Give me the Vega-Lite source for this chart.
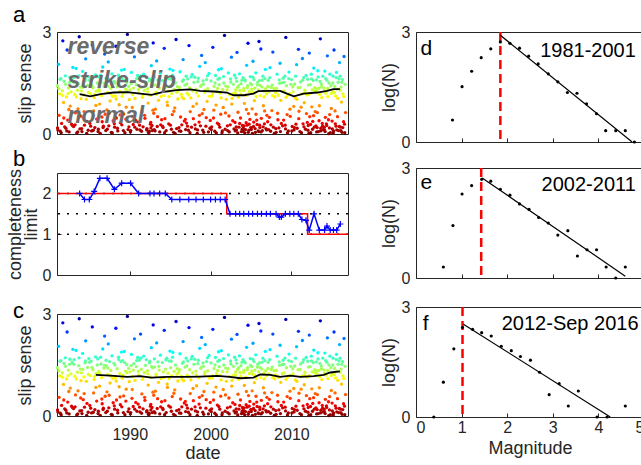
{
"$schema": "https://vega.github.io/schema/vega-lite/v6.json",
"background": "white",
"padding": {"left": 5, "top": 3, "right": -3, "bottom": 0},
"config": {
  "font": "Liberation Sans",
  "view": {"stroke": "#262626", "strokeWidth": 1},
  "axis": {"domain": false, "grid": false, "ticks": true, "tickSize": -4, "tickColor": "#262626", "tickWidth": 1,
           "labelColor": "#262626", "labelFontSize": 16, "labelPadding": 10, "titleFontSize": 18, "titleFontWeight": "normal", "titleColor": "#262626", "titlePadding": 6},
  "title": {"fontSize": 22, "fontWeight": "normal", "color": "#000000", "anchor": "start", "frame": "group"}
},
"datasets": {
  "events": [
{"date":1981.04,"slip":1.42},{"date":1981.11,"slip":0.12},{"date":1981.19,"slip":2.05},{"date":1981.26,"slip":0.55},{"date":1981.34,"slip":1.18},{"date":1981.41,"slip":0.08},{"date":1981.49,"slip":1.63},{"date":1981.57,"slip":0.31},{"date":1981.66,"slip":1.27},{"date":1981.72,"slip":2.74},{"date":1981.81,"slip":0.93},{"date":1981.88,"slip":1.55},{"date":1981.95,"slip":0.21},
{"date":1982.03,"slip":1.71},{"date":1982.1,"slip":0.17},{"date":1982.18,"slip":1.09},{"date":1982.25,"slip":2.47},{"date":1982.33,"slip":0.41},{"date":1982.42,"slip":1.35},{"date":1982.5,"slip":0.06},{"date":1982.56,"slip":1.52},{"date":1982.64,"slip":0.82},{"date":1982.73,"slip":1.24},{"date":1982.8,"slip":0.29},{"date":1982.87,"slip":1.58},{"date":1982.96,"slip":1.96},
{"date":1983.05,"slip":0.22},{"date":1983.13,"slip":1.66},{"date":1983.2,"slip":1.17},{"date":1983.29,"slip":0.62},{"date":1983.36,"slip":1.93},{"date":1983.44,"slip":0.03},{"date":1983.52,"slip":1.29},{"date":1983.6,"slip":0.74},{"date":1983.68,"slip":1.48},{"date":1983.75,"slip":2.86},{"date":1983.83,"slip":0.15},{"date":1983.9,"slip":1.38},{"date":1983.97,"slip":1.04},
{"date":1984.02,"slip":1.27},{"date":1984.09,"slip":0.07},{"date":1984.17,"slip":1.84},{"date":1984.24,"slip":0.48},{"date":1984.32,"slip":1.15},{"date":1984.4,"slip":0.26},{"date":1984.47,"slip":1.56},{"date":1984.55,"slip":2.21},{"date":1984.63,"slip":1.02},{"date":1984.71,"slip":0.37},{"date":1984.78,"slip":1.43},{"date":1984.86,"slip":0.11},{"date":1984.93,"slip":1.69},
{"date":1985.06,"slip":0.31},{"date":1985.14,"slip":1.19},{"date":1985.21,"slip":1.61},{"date":1985.28,"slip":0.09},{"date":1985.37,"slip":2.62},{"date":1985.45,"slip":1.36},{"date":1985.53,"slip":0.68},{"date":1985.6,"slip":1.07},{"date":1985.69,"slip":0.19},{"date":1985.77,"slip":1.74},{"date":1985.84,"slip":1.26},{"date":1985.91,"slip":0.44},{"date":1985.98,"slip":1.5},
{"date":1986.04,"slip":1.68},{"date":1986.12,"slip":0.14},{"date":1986.19,"slip":1.31},{"date":1986.27,"slip":0.88},{"date":1986.35,"slip":0.02},{"date":1986.43,"slip":1.53},{"date":1986.51,"slip":1.13},{"date":1986.59,"slip":0.36},{"date":1986.66,"slip":1.97},{"date":1986.74,"slip":0.23},{"date":1986.82,"slip":1.41},{"date":1986.89,"slip":2.35},{"date":1986.96,"slip":0.58},
{"date":1987.03,"slip":0.1},{"date":1987.1,"slip":1.47},{"date":1987.18,"slip":0.71},{"date":1987.26,"slip":1.22},{"date":1987.34,"slip":2.12},{"date":1987.41,"slip":0.24},{"date":1987.49,"slip":1.6},{"date":1987.57,"slip":0.97},{"date":1987.65,"slip":1.34},{"date":1987.72,"slip":0.05},{"date":1987.8,"slip":1.77},{"date":1987.88,"slip":1.11},{"date":1987.95,"slip":0.39},
{"date":1988.05,"slip":1.55},{"date":1988.13,"slip":0.2},{"date":1988.21,"slip":1.12},{"date":1988.28,"slip":2.58},{"date":1988.36,"slip":0.47},{"date":1988.44,"slip":1.39},{"date":1988.52,"slip":0.09},{"date":1988.61,"slip":1.73},{"date":1988.69,"slip":0.86},{"date":1988.76,"slip":1.25},{"date":1988.84,"slip":0.33},{"date":1988.92,"slip":1.6},{"date":1988.98,"slip":1.88},
{"date":1989.02,"slip":0.27},{"date":1989.1,"slip":1.63},{"date":1989.17,"slip":1.2},{"date":1989.25,"slip":0.59},{"date":1989.33,"slip":1.9},{"date":1989.4,"slip":0.04},{"date":1989.48,"slip":1.32},{"date":1989.56,"slip":0.79},{"date":1989.63,"slip":1.51},{"date":1989.71,"slip":2.93},{"date":1989.79,"slip":0.13},{"date":1989.86,"slip":1.4},{"date":1989.94,"slip":1.01},
{"date":1990.04,"slip":1.3},{"date":1990.12,"slip":0.1},{"date":1990.2,"slip":1.81},{"date":1990.27,"slip":0.52},{"date":1990.35,"slip":1.16},{"date":1990.43,"slip":0.28},{"date":1990.5,"slip":1.54},{"date":1990.58,"slip":2.27},{"date":1990.66,"slip":1.05},{"date":1990.74,"slip":0.4},{"date":1990.81,"slip":1.45},{"date":1990.89,"slip":0.14},{"date":1990.97,"slip":1.72},
{"date":1991.03,"slip":0.35},{"date":1991.11,"slip":1.21},{"date":1991.18,"slip":1.64},{"date":1991.26,"slip":0.12},{"date":1991.34,"slip":2.41},{"date":1991.42,"slip":1.37},{"date":1991.5,"slip":0.65},{"date":1991.57,"slip":1.08},{"date":1991.65,"slip":0.21},{"date":1991.72,"slip":1.76},{"date":1991.8,"slip":1.28},{"date":1991.88,"slip":0.46},{"date":1991.95,"slip":1.49},
{"date":1992.05,"slip":1.66},{"date":1992.13,"slip":0.16},{"date":1992.2,"slip":1.33},{"date":1992.28,"slip":0.91},{"date":1992.36,"slip":0.03},{"date":1992.4,"slip":0.08},{"date":1992.44,"slip":1.56},{"date":1992.52,"slip":1.14},{"date":1992.6,"slip":0.34},{"date":1992.62,"slip":0.18},{"date":1992.67,"slip":2.01},{"date":1992.75,"slip":0.25},{"date":1992.83,"slip":1.42},{"date":1992.9,"slip":2.68},{"date":1992.97,"slip":0.61},
{"date":1993.02,"slip":0.13},{"date":1993.09,"slip":1.44},{"date":1993.17,"slip":0.73},{"date":1993.25,"slip":1.23},{"date":1993.33,"slip":2.15},{"date":1993.4,"slip":0.22},{"date":1993.48,"slip":1.59},{"date":1993.56,"slip":0.99},{"date":1993.64,"slip":1.35},{"date":1993.71,"slip":0.06},{"date":1993.79,"slip":1.79},{"date":1993.87,"slip":1.1},{"date":1993.94,"slip":0.42},
{"date":1994.04,"slip":1.57},{"date":1994.12,"slip":0.19},{"date":1994.2,"slip":1.13},{"date":1994.27,"slip":2.52},{"date":1994.35,"slip":0.45},{"date":1994.43,"slip":1.38},{"date":1994.51,"slip":0.1},{"date":1994.59,"slip":1.7},{"date":1994.67,"slip":0.84},{"date":1994.74,"slip":1.26},{"date":1994.82,"slip":0.3},{"date":1994.9,"slip":1.62},{"date":1994.97,"slip":1.91},
{"date":1995.03,"slip":0.26},{"date":1995.11,"slip":1.61},{"date":1995.19,"slip":1.19},{"date":1995.26,"slip":0.57},{"date":1995.34,"slip":1.87},{"date":1995.42,"slip":0.05},{"date":1995.49,"slip":1.31},{"date":1995.57,"slip":0.77},{"date":1995.65,"slip":1.5},{"date":1995.73,"slip":2.78},{"date":1995.8,"slip":0.16},{"date":1995.88,"slip":1.39},{"date":1995.96,"slip":1.03},
{"date":1996.05,"slip":1.29},{"date":1996.13,"slip":0.09},{"date":1996.21,"slip":1.83},{"date":1996.29,"slip":0.5},{"date":1996.36,"slip":1.17},{"date":1996.44,"slip":0.27},{"date":1996.52,"slip":1.55},{"date":1996.6,"slip":2.19},{"date":1996.68,"slip":1.04},{"date":1996.75,"slip":0.38},{"date":1996.83,"slip":1.44},{"date":1996.91,"slip":0.13},{"date":1996.98,"slip":1.7},
{"date":1997.02,"slip":0.32},{"date":1997.1,"slip":1.2},{"date":1997.18,"slip":1.62},{"date":1997.25,"slip":0.11},{"date":1997.33,"slip":2.6},{"date":1997.41,"slip":1.36},{"date":1997.49,"slip":0.66},{"date":1997.56,"slip":1.06},{"date":1997.64,"slip":0.2},{"date":1997.72,"slip":1.75},{"date":1997.79,"slip":1.27},{"date":1997.87,"slip":0.45},{"date":1997.95,"slip":1.52},
{"date":1998.04,"slip":1.67},{"date":1998.12,"slip":0.15},{"date":1998.19,"slip":1.32},{"date":1998.27,"slip":0.89},{"date":1998.35,"slip":0.02},{"date":1998.43,"slip":1.54},{"date":1998.51,"slip":1.12},{"date":1998.58,"slip":0.35},{"date":1998.66,"slip":1.99},{"date":1998.74,"slip":0.24},{"date":1998.82,"slip":1.43},{"date":1998.89,"slip":2.31},{"date":1998.97,"slip":0.6},
{"date":1999.03,"slip":0.11},{"date":1999.11,"slip":1.46},{"date":1999.18,"slip":0.72},{"date":1999.26,"slip":1.22},{"date":1999.34,"slip":2.1},{"date":1999.42,"slip":0.23},{"date":1999.5,"slip":1.6},{"date":1999.57,"slip":0.96},{"date":1999.65,"slip":1.33},{"date":1999.73,"slip":0.06},{"date":1999.81,"slip":1.78},{"date":1999.88,"slip":1.11},{"date":1999.96,"slip":0.4},
{"date":2000.05,"slip":1.56},{"date":2000.13,"slip":0.21},{"date":2000.2,"slip":1.12},{"date":2000.28,"slip":2.55},{"date":2000.36,"slip":0.47},{"date":2000.44,"slip":1.4},{"date":2000.52,"slip":0.08},{"date":2000.6,"slip":1.72},{"date":2000.67,"slip":0.85},{"date":2000.75,"slip":1.25},{"date":2000.83,"slip":0.32},{"date":2000.91,"slip":1.61},{"date":2000.98,"slip":1.89},
{"date":2001.02,"slip":0.28},{"date":2001.1,"slip":1.64},{"date":2001.18,"slip":1.2},{"date":2001.26,"slip":0.58},{"date":2001.33,"slip":1.92},{"date":2001.41,"slip":0.04},{"date":2001.49,"slip":1.31},{"date":2001.57,"slip":0.78},{"date":2001.64,"slip":1.5},{"date":2001.72,"slip":2.9},{"date":2001.8,"slip":0.14},{"date":2001.87,"slip":1.41},{"date":2001.95,"slip":1.02},
{"date":2002.04,"slip":1.3},{"date":2002.12,"slip":0.1},{"date":2002.2,"slip":1.8},{"date":2002.27,"slip":0.53},{"date":2002.35,"slip":1.16},{"date":2002.43,"slip":0.27},{"date":2002.51,"slip":1.53},{"date":2002.58,"slip":2.26},{"date":2002.66,"slip":1.05},{"date":2002.74,"slip":0.39},{"date":2002.82,"slip":1.46},{"date":2002.9,"slip":0.15},{"date":2002.97,"slip":1.73},
{"date":2003.02,"slip":0.34},{"date":2003.08,"slip":1.21},{"date":2003.14,"slip":1.65},{"date":2003.2,"slip":0.12},{"date":2003.27,"slip":2.4},{"date":2003.33,"slip":1.37},{"date":2003.39,"slip":0.64},{"date":2003.45,"slip":1.08},{"date":2003.51,"slip":0.2},{"date":2003.57,"slip":1.77},{"date":2003.64,"slip":1.28},{"date":2003.7,"slip":0.47},{"date":2003.76,"slip":1.48},{"date":2003.82,"slip":0.07},{"date":2003.88,"slip":1.58},{"date":2003.94,"slip":0.25},
{"date":2004.01,"slip":1.66},{"date":2004.06,"slip":0.17},{"date":2004.12,"slip":1.34},{"date":2004.18,"slip":0.9},{"date":2004.23,"slip":0.03},{"date":2004.29,"slip":1.56},{"date":2004.35,"slip":1.14},{"date":2004.4,"slip":0.33},{"date":2004.46,"slip":2.02},{"date":2004.52,"slip":0.26},{"date":2004.57,"slip":1.42},{"date":2004.63,"slip":2.67},{"date":2004.69,"slip":0.6},{"date":2004.74,"slip":0.11},{"date":2004.8,"slip":1.25},{"date":2004.86,"slip":0.43},{"date":2004.91,"slip":1.69},{"date":2004.97,"slip":0.19},
{"date":2005.03,"slip":0.13},{"date":2005.08,"slip":1.45},{"date":2005.14,"slip":0.74},{"date":2005.2,"slip":1.23},{"date":2005.25,"slip":2.14},{"date":2005.31,"slip":0.22},{"date":2005.37,"slip":1.6},{"date":2005.42,"slip":0.98},{"date":2005.48,"slip":1.35},{"date":2005.54,"slip":0.05},{"date":2005.59,"slip":1.8},{"date":2005.65,"slip":1.1},{"date":2005.71,"slip":0.41},{"date":2005.76,"slip":0.28},{"date":2005.82,"slip":1.52},{"date":2005.88,"slip":0.09},{"date":2005.93,"slip":1.3},{"date":2005.99,"slip":2.72},
{"date":2006.04,"slip":1.57},{"date":2006.1,"slip":0.19},{"date":2006.16,"slip":1.13},{"date":2006.22,"slip":2.5},{"date":2006.28,"slip":0.46},{"date":2006.35,"slip":1.38},{"date":2006.41,"slip":0.1},{"date":2006.47,"slip":1.7},{"date":2006.53,"slip":0.83},{"date":2006.59,"slip":1.26},{"date":2006.66,"slip":0.3},{"date":2006.72,"slip":1.63},{"date":2006.78,"slip":1.9},{"date":2006.84,"slip":0.16},{"date":2006.9,"slip":1.18},{"date":2006.96,"slip":0.55},
{"date":2007.06,"slip":0.36},{"date":2007.13,"slip":1.58},{"date":2007.21,"slip":1.24},{"date":2007.27,"slip":0.49},{"date":2007.36,"slip":1.95},{"date":2007.43,"slip":0.08},{"date":2007.5,"slip":1.37},{"date":2007.58,"slip":0.69},{"date":2007.62,"slip":1.44},{"date":2007.7,"slip":2.41},{"date":2007.77,"slip":0.2},{"date":2007.85,"slip":1.33},{"date":2007.93,"slip":1.09},
{"date":2008.03,"slip":1.21},{"date":2008.11,"slip":0.05},{"date":2008.22,"slip":1.76},{"date":2008.29,"slip":0.61},{"date":2008.37,"slip":1.14},{"date":2008.45,"slip":0.18},{"date":2008.53,"slip":1.49},{"date":2008.6,"slip":2.08},{"date":2008.68,"slip":0.99},{"date":2008.75,"slip":0.31},{"date":2008.84,"slip":1.51},{"date":2008.91,"slip":0.24},{"date":2008.98,"slip":1.64},
{"date":2009.04,"slip":0.41},{"date":2009.12,"slip":1.27},{"date":2009.19,"slip":1.7},{"date":2009.27,"slip":0.15},{"date":2009.31,"slip":2.84},{"date":2009.39,"slip":1.42},{"date":2009.47,"slip":0.57},{"date":2009.55,"slip":1.15},{"date":2009.62,"slip":0.09},{"date":2009.7,"slip":1.82},{"date":2009.78,"slip":1.19},{"date":2009.85,"slip":0.52},{"date":2009.93,"slip":1.46},
{"date":2010.02,"slip":1.6},{"date":2010.1,"slip":0.22},{"date":2010.17,"slip":1.39},{"date":2010.29,"slip":0.81},{"date":2010.33,"slip":0.12},{"date":2010.4,"slip":1.47},{"date":2010.48,"slip":1.06},{"date":2010.56,"slip":0.29},{"date":2010.64,"slip":2.04},{"date":2010.71,"slip":0.17},{"date":2010.83,"slip":1.36},{"date":2010.87,"slip":2.49},{"date":2010.94,"slip":0.67},
{"date":2011.05,"slip":0.07},{"date":2011.13,"slip":1.53},{"date":2011.2,"slip":0.79},{"date":2011.28,"slip":1.18},{"date":2011.36,"slip":2.22},{"date":2011.44,"slip":0.3},{"date":2011.51,"slip":1.66},{"date":2011.59,"slip":0.92},{"date":2011.67,"slip":1.29},{"date":2011.74,"slip":0.14},{"date":2011.82,"slip":1.72},{"date":2011.9,"slip":1.15},{"date":2011.97,"slip":0.34},
{"date":2012.02,"slip":1.61},{"date":2012.08,"slip":0.25},{"date":2012.14,"slip":1.17},{"date":2012.21,"slip":2.38},{"date":2012.27,"slip":0.51},{"date":2012.33,"slip":1.45},{"date":2012.39,"slip":0.04},{"date":2012.46,"slip":1.76},{"date":2012.52,"slip":0.8},{"date":2012.58,"slip":1.3},{"date":2012.64,"slip":0.37},{"date":2012.71,"slip":1.57},{"date":2012.77,"slip":1.94},{"date":2012.83,"slip":0.2},{"date":2012.89,"slip":1.36},{"date":2012.95,"slip":0.66},
{"date":2013.03,"slip":0.24},{"date":2013.09,"slip":1.59},{"date":2013.15,"slip":1.25},{"date":2013.21,"slip":0.63},{"date":2013.27,"slip":1.86},{"date":2013.33,"slip":0.07},{"date":2013.39,"slip":1.34},{"date":2013.45,"slip":0.83},{"date":2013.52,"slip":1.55},{"date":2013.58,"slip":2.8},{"date":2013.64,"slip":0.17},{"date":2013.7,"slip":1.47},{"date":2013.76,"slip":1.07},{"date":2013.82,"slip":0.31},{"date":2013.88,"slip":1.7},{"date":2013.94,"slip":0.12},
{"date":2014.02,"slip":1.35},{"date":2014.08,"slip":0.13},{"date":2014.14,"slip":1.85},{"date":2014.2,"slip":0.49},{"date":2014.27,"slip":1.2},{"date":2014.33,"slip":0.3},{"date":2014.39,"slip":1.58},{"date":2014.45,"slip":2.3},{"date":2014.51,"slip":1.1},{"date":2014.58,"slip":0.42},{"date":2014.64,"slip":1.5},{"date":2014.7,"slip":0.18},{"date":2014.76,"slip":1.76},{"date":2014.82,"slip":0.04},{"date":2014.88,"slip":1.42},{"date":2014.94,"slip":0.75},
{"date":2015.03,"slip":0.38},{"date":2015.09,"slip":1.25},{"date":2015.15,"slip":1.7},{"date":2015.21,"slip":0.09},{"date":2015.27,"slip":2.47},{"date":2015.34,"slip":1.4},{"date":2015.4,"slip":0.68},{"date":2015.46,"slip":1.12},{"date":2015.52,"slip":0.23},{"date":2015.58,"slip":1.81},{"date":2015.64,"slip":1.32},{"date":2015.7,"slip":0.51},{"date":2015.77,"slip":1.52},{"date":2015.83,"slip":0.1},{"date":2015.89,"slip":1.62},{"date":2015.95,"slip":2.1},
{"date":2016.02,"slip":1.7},{"date":2016.08,"slip":0.2},{"date":2016.14,"slip":1.38},{"date":2016.2,"slip":0.94},{"date":2016.26,"slip":0.05},{"date":2016.32,"slip":1.6},{"date":2016.38,"slip":1.18},{"date":2016.45,"slip":0.36},{"date":2016.51,"slip":2.28},{"date":2016.57,"slip":0.29},{"date":2016.63,"slip":1.46},{"date":2016.69,"slip":0.63},
{"date":1981.07,"slip":0.18},{"date":1981.23,"slip":1.33},{"date":1981.38,"slip":1.61},{"date":1981.52,"slip":0.04},{"date":1981.69,"slip":1.14},{"date":1981.84,"slip":0.47},
{"date":1982.06,"slip":1.46},{"date":1982.21,"slip":0.09},{"date":1982.37,"slip":1.19},{"date":1982.46,"slip":0.72},{"date":1982.6,"slip":1.67},{"date":1982.91,"slip":0.25},
{"date":1983.09,"slip":1.52},{"date":1983.24,"slip":0.27},{"date":1983.4,"slip":1.09},{"date":1983.57,"slip":0.06},{"date":1983.72,"slip":1.71},{"date":1983.93,"slip":0.53},
{"date":1984.05,"slip":0.16},{"date":1984.2,"slip":1.37},{"date":1984.36,"slip":0.66},{"date":1984.51,"slip":1.62},{"date":1984.67,"slip":0.02},{"date":1984.89,"slip":1.22},
{"date":1985.02,"slip":1.58},{"date":1985.17,"slip":0.23},{"date":1985.33,"slip":1.43},{"date":1985.49,"slip":0.11},{"date":1985.64,"slip":1.16},{"date":1985.81,"slip":0.84},
{"date":1986.08,"slip":0.07},{"date":1986.23,"slip":1.26},{"date":1986.39,"slip":1.73},{"date":1986.55,"slip":0.5},{"date":1986.7,"slip":0.19},{"date":1986.85,"slip":1.49},
{"date":1987.07,"slip":1.64},{"date":1987.22,"slip":0.14},{"date":1987.3,"slip":1.41},{"date":1987.45,"slip":0.61},{"date":1987.61,"slip":1.18},{"date":1987.84,"slip":0.03},
{"date":1988.09,"slip":0.3},{"date":1988.17,"slip":1.5},{"date":1988.32,"slip":1.03},{"date":1988.48,"slip":0.17},{"date":1988.64,"slip":1.66},{"date":1988.8,"slip":0.56},
{"date":1989.06,"slip":1.11},{"date":1989.21,"slip":0.1},{"date":1989.37,"slip":1.57},{"date":1989.52,"slip":0.44},{"date":1989.67,"slip":1.27},{"date":1989.9,"slip":0.21},
{"date":1990.08,"slip":0.06},{"date":1990.16,"slip":1.48},{"date":1990.31,"slip":0.78},{"date":1990.46,"slip":1.35},{"date":1990.62,"slip":0.2},{"date":1990.85,"slip":1.63},
{"date":1991.07,"slip":1.31},{"date":1991.22,"slip":0.26},{"date":1991.38,"slip":1.7},{"date":1991.46,"slip":0.08},{"date":1991.61,"slip":1.13},{"date":1991.84,"slip":0.55},
{"date":1992.09,"slip":0.12},{"date":1992.24,"slip":1.24},{"date":1992.32,"slip":0.05},{"date":1992.48,"slip":1.61},{"date":1992.56,"slip":0.29},{"date":1992.71,"slip":1.45},{"date":1992.79,"slip":0.1},{"date":1992.87,"slip":0.7},
{"date":1993.05,"slip":1.68},{"date":1993.13,"slip":0.09},{"date":1993.29,"slip":1.17},{"date":1993.44,"slip":0.51},{"date":1993.6,"slip":1.46},{"date":1993.83,"slip":0.27},
{"date":1994.08,"slip":0.22},{"date":1994.16,"slip":1.3},{"date":1994.31,"slip":0.04},{"date":1994.47,"slip":1.65},{"date":1994.63,"slip":0.94},{"date":1994.86,"slip":1.1},
{"date":1995.07,"slip":1.42},{"date":1995.15,"slip":0.14},{"date":1995.3,"slip":1.73},{"date":1995.46,"slip":0.67},{"date":1995.61,"slip":0.02},{"date":1995.84,"slip":1.23},
{"date":1996.09,"slip":0.19},{"date":1996.17,"slip":1.36},{"date":1996.32,"slip":0.08},{"date":1996.48,"slip":1.08},{"date":1996.64,"slip":1.59},{"date":1996.87,"slip":0.43},
{"date":1997.06,"slip":1.47},{"date":1997.14,"slip":0.23},{"date":1997.29,"slip":1.15},{"date":1997.45,"slip":0.04},{"date":1997.6,"slip":1.68},{"date":1997.83,"slip":0.81},
{"date":1998.08,"slip":0.27},{"date":1998.23,"slip":1.21},{"date":1998.39,"slip":0.12},{"date":1998.47,"slip":1.64},{"date":1998.62,"slip":0.55},{"date":1998.78,"slip":1.4},
{"date":1999.07,"slip":1.56},{"date":1999.15,"slip":0.05},{"date":1999.3,"slip":1.29},{"date":1999.46,"slip":0.48},{"date":1999.61,"slip":1.71},{"date":1999.92,"slip":0.17},
{"date":2000.09,"slip":0.13},{"date":2000.24,"slip":1.18},{"date":2000.4,"slip":0.7},{"date":2000.56,"slip":1.5},{"date":2000.71,"slip":0.03},{"date":2000.87,"slip":1.34},
{"date":2001.06,"slip":1.45},{"date":2001.14,"slip":0.2},{"date":2001.3,"slip":1.06},{"date":2001.45,"slip":0.09},{"date":2001.61,"slip":1.69},{"date":2001.84,"slip":0.62},
{"date":2002.08,"slip":0.24},{"date":2002.16,"slip":1.39},{"date":2002.31,"slip":0.06},{"date":2002.47,"slip":1.62},{"date":2002.62,"slip":0.88},{"date":2002.86,"slip":1.2},
{"date":2003.05,"slip":0.09},{"date":2003.11,"slip":1.3},{"date":2003.17,"slip":0.21},{"date":2003.24,"slip":1.55},{"date":2003.36,"slip":0.03},{"date":2003.48,"slip":1.42},{"date":2003.6,"slip":0.31},{"date":2003.73,"slip":1.17},{"date":2003.91,"slip":0.14},
{"date":2004.03,"slip":0.08},{"date":2004.09,"slip":1.28},{"date":2004.15,"slip":0.24},{"date":2004.21,"slip":1.6},{"date":2004.32,"slip":0.13},{"date":2004.43,"slip":0.72},{"date":2004.55,"slip":1.36},{"date":2004.66,"slip":0.05},{"date":2004.77,"slip":0.29},{"date":2004.94,"slip":1.49},
{"date":2005.06,"slip":0.19},{"date":2005.11,"slip":1.32},{"date":2005.17,"slip":0.02},{"date":2005.23,"slip":1.67},{"date":2005.34,"slip":0.35},{"date":2005.45,"slip":1.2},{"date":2005.51,"slip":0.16},{"date":2005.62,"slip":0.58},{"date":2005.79,"slip":1.44},{"date":2005.96,"slip":0.07},
{"date":2006.07,"slip":0.26},{"date":2006.13,"slip":1.43},{"date":2006.25,"slip":0.06},{"date":2006.38,"slip":1.58},{"date":2006.5,"slip":0.21},{"date":2006.62,"slip":1.09},{"date":2006.69,"slip":0.68},{"date":2006.81,"slip":1.33},{"date":2006.93,"slip":0.12},
{"date":2007.09,"slip":1.4},{"date":2007.17,"slip":0.13},{"date":2007.32,"slip":1.66},{"date":2007.46,"slip":0.27},{"date":2007.66,"slip":1.13},{"date":2007.89,"slip":0.02},
{"date":2008.07,"slip":0.16},{"date":2008.15,"slip":1.34},{"date":2008.33,"slip":0.42},{"date":2008.49,"slip":1.59},{"date":2008.64,"slip":0.07},{"date":2008.88,"slip":1.25},
{"date":2009.08,"slip":1.52},{"date":2009.23,"slip":0.26},{"date":2009.35,"slip":1.08},{"date":2009.51,"slip":0.03},{"date":2009.67,"slip":1.63},{"date":2009.82,"slip":0.73},
{"date":2010.06,"slip":0.09},{"date":2010.21,"slip":1.24},{"date":2010.37,"slip":0.19},{"date":2010.52,"slip":1.7},{"date":2010.68,"slip":1.02},{"date":2010.91,"slip":0.45},
{"date":2011.09,"slip":1.37},{"date":2011.24,"slip":0.04},{"date":2011.4,"slip":1.58},{"date":2011.55,"slip":0.21},{"date":2011.63,"slip":1.21},{"date":2011.86,"slip":0.6},
{"date":2012.05,"slip":0.11},{"date":2012.11,"slip":1.44},{"date":2012.17,"slip":0.02},{"date":2012.24,"slip":1.19},{"date":2012.36,"slip":0.28},{"date":2012.49,"slip":1.62},{"date":2012.61,"slip":0.14},{"date":2012.74,"slip":0.54},{"date":2012.92,"slip":1.27},
{"date":2013.06,"slip":1.33},{"date":2013.12,"slip":0.06},{"date":2013.18,"slip":0.19},{"date":2013.3,"slip":1.68},{"date":2013.42,"slip":0.39},{"date":2013.49,"slip":1.16},{"date":2013.61,"slip":0.09},{"date":2013.73,"slip":1.39},{"date":2013.85,"slip":0.23},
{"date":2014.05,"slip":0.2},{"date":2014.11,"slip":1.26},{"date":2014.17,"slip":0.07},{"date":2014.24,"slip":1.63},{"date":2014.36,"slip":0.25},{"date":2014.48,"slip":1.34},{"date":2014.61,"slip":0.01},{"date":2014.73,"slip":0.57},{"date":2014.91,"slip":1.19},
{"date":2015.06,"slip":0.15},{"date":2015.12,"slip":1.5},{"date":2015.18,"slip":0.03},{"date":2015.31,"slip":1.22},{"date":2015.43,"slip":0.3},{"date":2015.55,"slip":1.66},{"date":2015.61,"slip":0.12},{"date":2015.74,"slip":1.05},{"date":2015.92,"slip":0.22},
{"date":2016.05,"slip":1.29},{"date":2016.11,"slip":0.1},{"date":2016.23,"slip":1.52},{"date":2016.35,"slip":0.19},{"date":2016.48,"slip":1.1},{"date":2016.6,"slip":0.04}
  ],
  "medA": [
{"date":1983.8,"slip":1.17},{"date":1985.1,"slip":1.11},{"date":1986.4,"slip":1.17},{"date":1988.0,"slip":1.22},{"date":1989.7,"slip":1.23},{"date":1991.3,"slip":1.19},{"date":1992.7,"slip":1.15},{"date":1994.2,"slip":1.24},{"date":1995.8,"slip":1.29},{"date":1997.5,"slip":1.31},{"date":1998.7,"slip":1.27},{"date":2000.4,"slip":1.25},{"date":2002.0,"slip":1.22},{"date":2002.85,"slip":1.14},{"date":2004.1,"slip":1.14},{"date":2005.3,"slip":1.19},{"date":2005.9,"slip":1.26},{"date":2007.4,"slip":1.27},{"date":2008.6,"slip":1.27},{"date":2009.45,"slip":1.19},{"date":2010.3,"slip":1.11},{"date":2011.5,"slip":1.19},{"date":2013.2,"slip":1.22},{"date":2014.4,"slip":1.27},{"date":2015.2,"slip":1.32},{"date":2016.0,"slip":1.32}
  ],
  "medC": [
{"date":1985.8,"slip":1.21},{"date":1987.6,"slip":1.19},{"date":1989.7,"slip":1.15},{"date":1991.3,"slip":1.17},{"date":1992.7,"slip":1.13},{"date":1994.6,"slip":1.15},{"date":1996.7,"slip":1.15},{"date":1998.7,"slip":1.16},{"date":2000.8,"slip":1.18},{"date":2002.4,"slip":1.15},{"date":2003.7,"slip":1.11},{"date":2005.3,"slip":1.13},{"date":2006.15,"slip":1.22},{"date":2007.4,"slip":1.21},{"date":2008.6,"slip":1.15},{"date":2009.9,"slip":1.19},{"date":2011.1,"slip":1.15},{"date":2012.75,"slip":1.17},{"date":2014.0,"slip":1.21},{"date":2014.8,"slip":1.28},{"date":2016.0,"slip":1.31}
  ],
  "labelsA": [
{"date":1982.3,"slip":2.55,"label":"reverse"},{"date":1982.3,"slip":1.56,"label":"strike-slip"},{"date":1982.3,"slip":0.53,"label":"normal"}
  ],
  "limitGrid": [{"limit":1},{"limit":1.5},{"limit":2}],
  "limitStep": [{"date":1981,"limit":2},{"date":2002,"limit":1.5},{"date":2012,"limit":1},{"date":2017,"limit":1}],
  "limitEst": [
{"date":1983.8,"limit":2.0},{"date":1984.4,"limit":1.85},{"date":1985.0,"limit":1.85},{"date":1985.6,"limit":2.05},{"date":1986.3,"limit":2.37},{"date":1987.2,"limit":2.37},{"date":1988.1,"limit":2.1},{"date":1989.0,"limit":2.25},{"date":1990.1,"limit":2.25},{"date":1991.1,"limit":2.0},{"date":1992.5,"limit":2.0},{"date":1993.0,"limit":2.0},{"date":1993.7,"limit":2.0},{"date":1994.4,"limit":2.0},{"date":1995.2,"limit":1.85},{"date":1996.2,"limit":1.85},{"date":1997.3,"limit":1.85},{"date":1998.2,"limit":1.85},{"date":1999.1,"limit":1.85},{"date":2000.0,"limit":1.85},{"date":2000.6,"limit":1.85},{"date":2001.2,"limit":1.85},{"date":2001.8,"limit":1.85},{"date":2002.4,"limit":1.5},{"date":2003.1,"limit":1.5},{"date":2003.6,"limit":1.5},{"date":2004.1,"limit":1.5},{"date":2004.7,"limit":1.5},{"date":2005.2,"limit":1.5},{"date":2005.8,"limit":1.5},{"date":2006.3,"limit":1.5},{"date":2006.9,"limit":1.5},{"date":2007.4,"limit":1.5},{"date":2008.1,"limit":1.5},{"date":2008.5,"limit":1.42},{"date":2008.75,"limit":1.42},{"date":2009.25,"limit":1.5},{"date":2009.8,"limit":1.5},{"date":2010.3,"limit":1.5},{"date":2010.85,"limit":1.5},{"date":2011.3,"limit":1.36},{"date":2011.8,"limit":1.34},{"date":2012.2,"limit":1.1},{"date":2012.8,"limit":1.5},{"date":2013.45,"limit":1.1},{"date":2014.1,"limit":1.1},{"date":2014.4,"limit":1.2},{"date":2014.8,"limit":1.1},{"date":2015.2,"limit":1.1},{"date":2015.6,"limit":1.1},{"date":2016.05,"limit":1.25}
  ],
  "gr": [
{"panel":"d","mag":0.8,"logN":0.6},{"panel":"d","mag":1.01,"logN":1.51},{"panel":"d","mag":1.22,"logN":1.93},{"panel":"d","mag":1.43,"logN":2.3},{"panel":"d","mag":1.64,"logN":2.54},{"panel":"d","mag":1.85,"logN":2.73},{"panel":"d","mag":2.06,"logN":2.69},{"panel":"d","mag":2.27,"logN":2.56},{"panel":"d","mag":2.47,"logN":2.34},{"panel":"d","mag":2.68,"logN":2.13},{"panel":"d","mag":2.9,"logN":1.86},{"panel":"d","mag":3.11,"logN":1.64},{"panel":"d","mag":3.32,"logN":1.35},{"panel":"d","mag":3.53,"logN":1.33},{"panel":"d","mag":3.74,"logN":1.04},{"panel":"d","mag":3.96,"logN":0.77},{"panel":"d","mag":4.16,"logN":0.31},{"panel":"d","mag":4.38,"logN":0.31},{"panel":"d","mag":4.59,"logN":0.31},{"panel":"d","mag":4.79,"logN":0},
{"panel":"e","mag":0.6,"logN":0.3},{"panel":"e","mag":0.81,"logN":1.43},{"panel":"e","mag":1.01,"logN":2.29},{"panel":"e","mag":1.22,"logN":2.52},{"panel":"e","mag":1.44,"logN":2.69},{"panel":"e","mag":1.64,"logN":2.64},{"panel":"e","mag":1.85,"logN":2.42},{"panel":"e","mag":2.06,"logN":2.26},{"panel":"e","mag":2.27,"logN":2.02},{"panel":"e","mag":2.48,"logN":1.87},{"panel":"e","mag":2.69,"logN":1.65},{"panel":"e","mag":2.9,"logN":1.5},{"panel":"e","mag":3.11,"logN":1.17},{"panel":"e","mag":3.33,"logN":1.29},{"panel":"e","mag":3.54,"logN":0.6},{"panel":"e","mag":3.75,"logN":0.77},{"panel":"e","mag":3.96,"logN":0.77},{"panel":"e","mag":4.17,"logN":0.3},{"panel":"e","mag":4.38,"logN":0},{"panel":"e","mag":4.59,"logN":0.3},
{"panel":"f","mag":0.39,"logN":0},{"panel":"f","mag":0.6,"logN":0.95},{"panel":"f","mag":0.83,"logN":1.86},{"panel":"f","mag":1.02,"logN":2.44},{"panel":"f","mag":1.24,"logN":2.39},{"panel":"f","mag":1.44,"logN":2.3},{"panel":"f","mag":1.65,"logN":2.21},{"panel":"f","mag":1.87,"logN":1.93},{"panel":"f","mag":2.09,"logN":1.81},{"panel":"f","mag":2.29,"logN":1.65},{"panel":"f","mag":2.51,"logN":1.55},{"panel":"f","mag":2.71,"logN":1.22},{"panel":"f","mag":2.92,"logN":0.61},{"panel":"f","mag":3.14,"logN":0.91},{"panel":"f","mag":3.34,"logN":0.3},{"panel":"f","mag":3.56,"logN":0.71},{"panel":"f","mag":3.97,"logN":0},{"panel":"f","mag":4.19,"logN":0},{"panel":"f","mag":4.59,"logN":0.3}
  ],
  "fit": [
{"panel":"d","mag":1.85,"logN":2.91},{"panel":"d","mag":4.74,"logN":0},
{"panel":"e","mag":1.45,"logN":2.73},{"panel":"e","mag":4.59,"logN":0.05},
{"panel":"f","mag":1.04,"logN":2.53},{"panel":"f","mag":4.26,"logN":0}
  ],
  "mc": [{"panel":"d","mag":1.85},{"panel":"e","mag":1.43},{"panel":"f","mag":1.02}],
  "grText": [
{"panel":"d","letter":"d","period":"1981-2001"},{"panel":"e","letter":"e","period":"2002-2011"},{"panel":"f","letter":"f","period":"2012-Sep 2016"}
  ]
},
"hconcat": [
 {"vconcat": [
  {"width": 291, "height": 102,
   "title": {"text": "a", "dx": -44, "offset": -3},
   "layer": [
    {"data": {"name": "events"}, "mark": {"type": "circle", "size": 11, "opacity": 1},
     "encoding": {
      "x": {"field": "date", "type": "quantitative", "scale": {"domain": [1981, 2017], "nice": false}, "axis": {"values": [1990, 2000, 2010], "labels": false, "title": null}},
      "y": {"field": "slip", "type": "quantitative", "scale": {"domain": [0, 3], "nice": false}, "axis": {"values": [0, 1, 2, 3], "title": "slip sense", "titlePadding": 8}},
      "color": {"field": "slip", "type": "quantitative", "scale": {"domain": [0, 0.375, 1.125, 1.875, 2.625, 3], "range": ["#800000", "#ff0000", "#ffff00", "#00ffff", "#0000ff", "#000080"], "interpolate": "rgb"}, "legend": null}}},
    {"data": {"name": "medA"}, "mark": {"type": "line", "color": "#000000", "strokeWidth": 1.8},
     "encoding": {"x": {"field": "date", "type": "quantitative"}, "y": {"field": "slip", "type": "quantitative"}}},
    {"data": {"name": "labelsA"}, "mark": {"type": "text", "align": "left", "baseline": "middle", "fontSize": 23, "fontWeight": "bold", "fontStyle": "italic", "color": "#6b6b6b"},
     "encoding": {"x": {"field": "date", "type": "quantitative"}, "y": {"field": "slip", "type": "quantitative"}, "text": {"field": "label"}}}
   ]},
  {"width": 291, "height": 102,
   "title": {"text": "b", "dx": -44, "offset": -3},
   "layer": [
    {"data": {"name": "limitGrid"}, "mark": {"type": "rule", "color": "#000000", "strokeWidth": 1.5, "strokeDash": [2, 7]},
     "encoding": {"y": {"field": "limit", "type": "quantitative", "scale": {"domain": [0, 2.5], "nice": false}, "axis": {"values": [0, 1, 2], "title": ["completeness", "limit"], "titleLineHeight": 16, "titlePadding": 2}}}},
    {"data": {"name": "limitStep"}, "mark": {"type": "line", "color": "#ff0000", "strokeWidth": 1.5, "interpolate": "step-after"},
     "encoding": {"x": {"field": "date", "type": "quantitative", "scale": {"domain": [1981, 2017], "nice": false}, "axis": {"values": [1990, 2000, 2010], "labels": false, "title": null}}, "y": {"field": "limit", "type": "quantitative"}}},
    {"data": {"name": "limitEst"}, "mark": {"type": "line", "color": "#0000ff", "strokeWidth": 1.5},
     "encoding": {"x": {"field": "date", "type": "quantitative"}, "y": {"field": "limit", "type": "quantitative"}}},
    {"data": {"name": "limitEst"}, "mark": {"type": "point", "shape": "M-1,0L1,0M0,-1L0,1", "filled": false, "color": "#0000ff", "strokeWidth": 1.2, "size": 36, "opacity": 1},
     "encoding": {"x": {"field": "date", "type": "quantitative"}, "y": {"field": "limit", "type": "quantitative"}}}
   ]},
  {"width": 291, "height": 102,
   "title": {"text": "c", "dx": -44, "offset": -17},
   "layer": [
    {"data": {"name": "events"}, "mark": {"type": "circle", "size": 11, "opacity": 1},
     "encoding": {
      "x": {"field": "date", "type": "quantitative", "scale": {"domain": [1981, 2017], "nice": false}, "axis": {"values": [1990, 2000, 2010], "format": "d", "title": "date", "labelPadding": 14, "titlePadding": 2}},
      "y": {"field": "slip", "type": "quantitative", "scale": {"domain": [0, 3], "nice": false}, "axis": {"values": [0, 1, 2, 3], "title": "slip sense", "titlePadding": 8}},
      "color": {"field": "slip", "type": "quantitative", "scale": {"domain": [0, 0.375, 1.125, 1.875, 2.625, 3], "range": ["#800000", "#ff0000", "#ffff00", "#00ffff", "#0000ff", "#000080"], "interpolate": "rgb"}, "legend": null}}},
    {"data": {"name": "medC"}, "mark": {"type": "line", "color": "#000000", "strokeWidth": 1.8},
     "encoding": {"x": {"field": "date", "type": "quantitative"}, "y": {"field": "slip", "type": "quantitative"}}}
   ]}
 ], "spacing": 39, "bounds": "flush"},
 {"vconcat": [
  {"width": 228, "height": 110,
   "layer": [
    {"data": {"name": "mc"}, "transform": [{"filter": "datum.panel == 'd'"}], "mark": {"type": "rule", "color": "#ff0000", "strokeWidth": 2.5, "strokeDash": [9, 5]},
     "encoding": {"x": {"field": "mag", "type": "quantitative", "scale": {"domain": [0, 5], "nice": false}, "axis": {"values": [0, 1, 2, 3, 4, 5], "labels": false, "title": null}}}},
    {"data": {"name": "fit"}, "transform": [{"filter": "datum.panel == 'd'"}], "mark": {"type": "line", "color": "#000000", "strokeWidth": 1.2},
     "encoding": {"x": {"field": "mag", "type": "quantitative"}, "y": {"field": "logN", "type": "quantitative", "scale": {"domain": [0, 3], "nice": false}, "axis": {"values": [0, 1, 2, 3], "title": "log(N)", "titlePadding": 3}}}},
    {"data": {"name": "gr"}, "transform": [{"filter": "datum.panel == 'd'"}], "mark": {"type": "circle", "size": 10, "color": "#000000", "opacity": 1},
     "encoding": {"x": {"field": "mag", "type": "quantitative"}, "y": {"field": "logN", "type": "quantitative"}}},
    {"data": {"name": "grText"}, "transform": [{"filter": "datum.panel == 'd'"}], "mark": {"type": "text", "align": "left", "baseline": "middle", "fontSize": 21, "color": "#000000"},
     "encoding": {"x": {"datum": 0.1, "type": "quantitative"}, "y": {"datum": 2.55, "type": "quantitative"}, "text": {"field": "letter"}}},
    {"data": {"name": "grText"}, "transform": [{"filter": "datum.panel == 'd'"}], "mark": {"type": "text", "align": "right", "baseline": "middle", "fontSize": 20, "color": "#000000"},
     "encoding": {"x": {"datum": 4.82, "type": "quantitative"}, "y": {"datum": 2.48, "type": "quantitative"}, "text": {"field": "period"}}}
   ]},
  {"vconcat": [
   {"width": 228, "height": 110,
    "layer": [
     {"data": {"name": "mc"}, "transform": [{"filter": "datum.panel == 'e'"}], "mark": {"type": "rule", "color": "#ff0000", "strokeWidth": 2.5, "strokeDash": [9, 5]},
      "encoding": {"x": {"field": "mag", "type": "quantitative", "scale": {"domain": [0, 5], "nice": false}, "axis": {"values": [0, 1, 2, 3, 4, 5], "labels": false, "title": null}}}},
     {"data": {"name": "fit"}, "transform": [{"filter": "datum.panel == 'e'"}], "mark": {"type": "line", "color": "#000000", "strokeWidth": 1.2},
      "encoding": {"x": {"field": "mag", "type": "quantitative"}, "y": {"field": "logN", "type": "quantitative", "scale": {"domain": [0, 3], "nice": false}, "axis": {"values": [0, 1, 2, 3], "title": "log(N)", "titlePadding": 3}}}},
     {"data": {"name": "gr"}, "transform": [{"filter": "datum.panel == 'e'"}], "mark": {"type": "circle", "size": 10, "color": "#000000", "opacity": 1},
      "encoding": {"x": {"field": "mag", "type": "quantitative"}, "y": {"field": "logN", "type": "quantitative"}}},
     {"data": {"name": "grText"}, "transform": [{"filter": "datum.panel == 'e'"}], "mark": {"type": "text", "align": "left", "baseline": "middle", "fontSize": 21, "color": "#000000"},
      "encoding": {"x": {"datum": 0.1, "type": "quantitative"}, "y": {"datum": 2.6, "type": "quantitative"}, "text": {"field": "letter"}}},
     {"data": {"name": "grText"}, "transform": [{"filter": "datum.panel == 'e'"}], "mark": {"type": "text", "align": "right", "baseline": "middle", "fontSize": 20, "color": "#000000"},
      "encoding": {"x": {"datum": 4.82, "type": "quantitative"}, "y": {"datum": 2.53, "type": "quantitative"}, "text": {"field": "period"}}}
    ]},
   {"width": 228, "height": 110,
    "layer": [
     {"data": {"name": "mc"}, "transform": [{"filter": "datum.panel == 'f'"}], "mark": {"type": "rule", "color": "#ff0000", "strokeWidth": 2.5, "strokeDash": [9, 5]},
      "encoding": {"x": {"field": "mag", "type": "quantitative", "scale": {"domain": [0, 5], "nice": false}, "axis": {"values": [0, 1, 2, 3, 4, 5], "title": "Magnitude", "labelPadding": 6, "titlePadding": 4}}}},
     {"data": {"name": "fit"}, "transform": [{"filter": "datum.panel == 'f'"}], "mark": {"type": "line", "color": "#000000", "strokeWidth": 1.2},
      "encoding": {"x": {"field": "mag", "type": "quantitative"}, "y": {"field": "logN", "type": "quantitative", "scale": {"domain": [0, 3], "nice": false}, "axis": {"values": [0, 1, 2, 3], "title": "log(N)", "titlePadding": 3}}}},
     {"data": {"name": "gr"}, "transform": [{"filter": "datum.panel == 'f'"}], "mark": {"type": "circle", "size": 10, "color": "#000000", "opacity": 1},
      "encoding": {"x": {"field": "mag", "type": "quantitative"}, "y": {"field": "logN", "type": "quantitative"}}},
     {"data": {"name": "grText"}, "transform": [{"filter": "datum.panel == 'f'"}], "mark": {"type": "text", "align": "left", "baseline": "middle", "fontSize": 21, "color": "#000000"},
      "encoding": {"x": {"datum": 0.15, "type": "quantitative"}, "y": {"datum": 2.55, "type": "quantitative"}, "text": {"field": "letter"}}},
     {"data": {"name": "grText"}, "transform": [{"filter": "datum.panel == 'f'"}], "mark": {"type": "text", "align": "right", "baseline": "middle", "fontSize": 20, "color": "#000000"},
      "encoding": {"x": {"datum": 4.88, "type": "quantitative"}, "y": {"datum": 2.53, "type": "quantitative"}, "text": {"field": "period"}}}
    ]}
  ], "spacing": 29, "bounds": "flush"}
 ], "spacing": 26, "bounds": "flush"}
],
"spacing": 27
}
